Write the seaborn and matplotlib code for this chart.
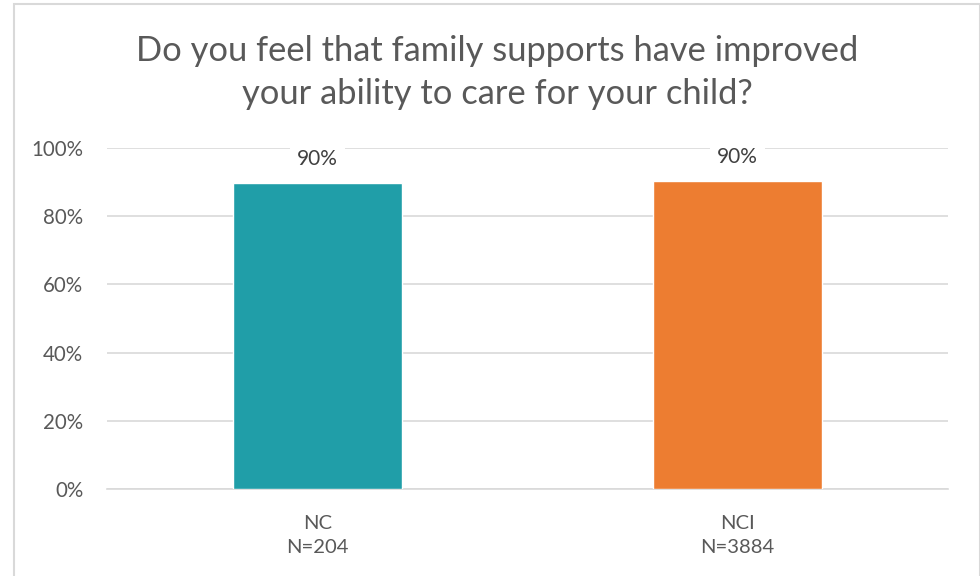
import matplotlib
matplotlib.use("Agg")
import matplotlib.pyplot as plt
import seaborn as sns
import pandas as pd
from matplotlib.patches import Rectangle
from matplotlib.ticker import PercentFormatter

categories = ["NC\nN=204", "NCI\nN=3884"]
values = [0.897, 0.903]
labels = ["90%", "90%"]
colors = ["#209EA8", "#ED7D31"]
title = "Do you feel that family supports have improved\nyour ability to care for your child?"

sns.set_theme(style="white")
plt.rcParams["font.family"] = ["Lato", "DejaVu Sans"]

df = pd.DataFrame({"cat": categories, "val": values})

fig = plt.figure(figsize=(9.8, 5.76), dpi=100)
ax = fig.add_axes([107/980, 1-489/576, (948-107)/980, (489-148)/576])
sns.barplot(data=df, x="cat", y="val", hue="cat", palette=colors, width=0.402,
            saturation=1, legend=False, ax=ax, zorder=3)
ax.set_ylim(0, 1.0)
ax.set_xlim(-0.5, 1.5)
ax.set_yticks([0, 0.2, 0.4, 0.6, 0.8, 1.0])
ax.yaxis.set_major_formatter(PercentFormatter(1.0, decimals=0))
ax.grid(axis="y", color="#D9D9D9", linewidth=1.2, zorder=0)
ax.set_axisbelow(True)
for s in ["top", "right", "left"]:
    ax.spines[s].set_visible(False)
ax.spines["bottom"].set_color("#D9D9D9")
ax.spines["bottom"].set_linewidth(1.2)
ax.tick_params(axis="y", length=0, labelsize=14.8, labelcolor="#595959", pad=17)
ax.tick_params(axis="x", length=0, labelsize=14.6, labelcolor="#595959", pad=19)
for t in ax.get_xticklabels():
    t.set_linespacing(1.5)
ax.set_xlabel("")
ax.set_ylabel("")

for i, (v, lab) in enumerate(zip(values, labels)):
    ax.text(i, v + 0.072, lab, ha="center", va="center", fontsize=15, color="#404040",
            bbox=dict(facecolor="white", edgecolor="none", pad=5), zorder=4)

fig.text(497/980, 1-72.5/576, title, ha="center", va="center", fontsize=24.8,
         color="#595959", linespacing=1.4)

fig.patches.append(Rectangle((14/980, -0.01), (979.5-14)/980, 1-4/576+0.01,
                             transform=fig.transFigure, fill=False,
                             edgecolor="#D9D9D9", linewidth=1.5))

fig.savefig("out.png", dpi=100, facecolor="white")
